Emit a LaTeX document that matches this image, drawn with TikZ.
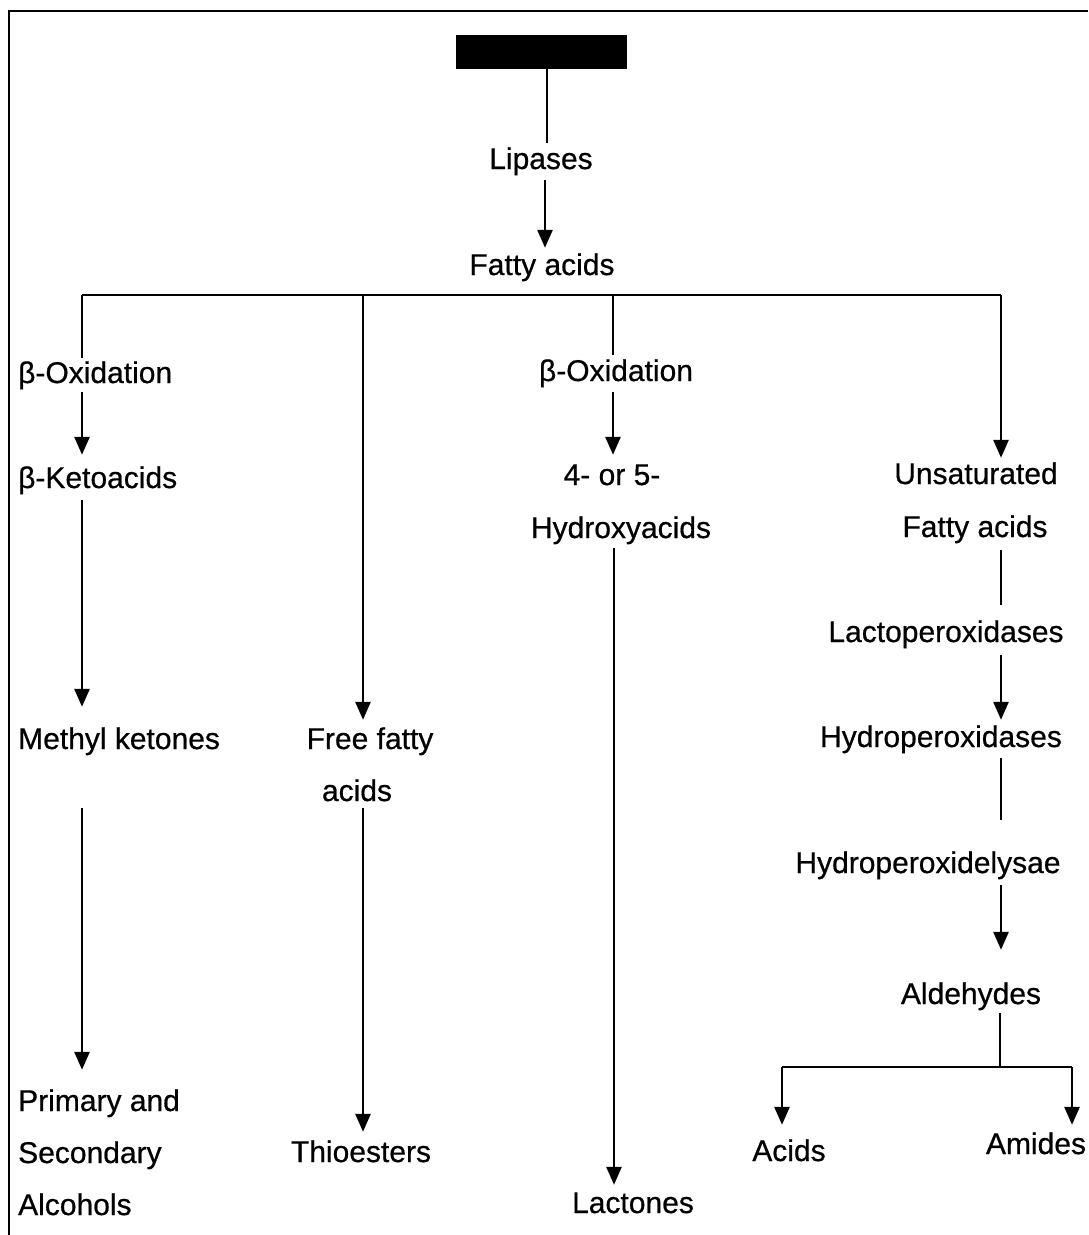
\documentclass[tikz,border=0pt]{standalone}
\usepackage{fontspec}
\setmainfont[FakeBold=0.6]{Liberation Sans}
\usetikzlibrary{arrows.meta}
\tikzset{
  lbl/.style={anchor=base, inner sep=0pt, text height=22pt, text depth=6pt, font=\fontsize{30}{36}\selectfont},
  lblw/.style={lbl, anchor=base west},
  conn/.style={line width=2.8pt},
  arr/.style={conn, -{Triangle[width=15pt,length=18pt]}},
  thin conn/.style={line width=1.2pt},
}
\begin{document}
\begin{tikzpicture}[x=1pt,y=-1pt]
\useasboundingbox (0,0) rectangle (1088,1235);
% frame
\draw[line width=2.8pt] (9,1235) -- (9,11) -- (1088,11);
% column coordinates
\coordinate (c0) at (547,0);
\coordinate (cA) at (82,0);
\coordinate (cB) at (363,0);
\coordinate (cC) at (613,0);
\coordinate (cH) at (614,0);
\coordinate (cD) at (1001,0);
\coordinate (barL) at (82,295);
\coordinate (barR) at (1001,295);
\coordinate (bB) at (363,295);
\coordinate (bC) at (613,295);
\coordinate (bE) at (1000,1067);
\coordinate (bAc) at (782,1067);
\coordinate (bAm) at (1072,1067);
% nodes
\node[fill=black, minimum width=171pt, minimum height=34pt, inner sep=0pt] (box) at (541.5,52) {};
\node[lbl] (lip) at (541,169) {Lipases};
\node[lbl] (fa) at (542,275) {Fatty acids};
\node[lblw] (ox1) at (18,383) {β-Oxidation};
\node[lblw] (ka) at (18,488) {β-Ketoacids};
\node[lblw] (mk) at (18,749) {Methyl ketones};
\node[lblw] (pa) at (18,1111) {Primary and};
\node[lblw] (sec) at (18,1163) {Secondary};
\node[lblw] (alc) at (18,1215) {Alcohols};
\node[lbl] (ff) at (370,749) {Free fatty};
\node[lbl] (ff2) at (357,801) {acids};
\node[lbl] (th) at (361,1162) {Thioesters};
\node[lbl] (ox2) at (616,381) {β-Oxidation};
\node[lbl] (h4) at (612,485) {4- or 5-};
\node[lbl] (hy) at (621,538) {Hydroxyacids};
\node[lbl] (lac) at (633,1213) {Lactones};
\node[lbl] (un) at (976,484) {Unsaturated};
\node[lbl] (fa2) at (975,537) {Fatty acids};
\node[lbl] (lp) at (946,642) {Lactoperoxidases};
\node[lbl] (hp) at (941,747) {Hydroperoxidases};
\node[lbl] (hl) at (928,873) {Hydroperoxidelysae};
\node[lbl] (al) at (971,1004) {Aldehydes};
\node[lbl] (ac) at (789,1161) {Acids};
\node[lbl] (am) at (1036,1154) {Amides};
% connectors
\draw[conn, shorten >=4pt] (box.south -| c0) -- (lip.north -| c0);
\draw[arr, shorten <=5pt, shorten >=5pt] (lip.south -| 545,0) -- (fa.north -| 545,0);
\draw[conn] (barL) -- (barR);
% left column
\draw[conn, shorten >=3pt] (barL) -- (ox1.north -| barL);
\draw[arr, shorten <=3pt, shorten >=11pt] (ox1.south -| cA) -- (ka.north -| cA);
\draw[arr, shorten <=6pt, shorten >=20pt] (ka.south -| cA) -- (mk.north -| cA);
\draw[arr, shorten <=53pt, shorten >=19pt] (mk.south -| cA) -- (pa.north -| cA);
% second column
\draw[arr, shorten >=7pt] (bB) -- (ff.north -| bB);
\draw[arr, shorten <=1pt, shorten >=8pt] (ff2.south -| cB) -- (th.north -| cB);
% third column
\draw[conn, shorten >=4pt] (bC) -- (ox2.north -| bC);
\draw[arr, shorten <=5pt, shorten >=8pt] (ox2.south -| cC) -- (h4.north -| cC);
\draw[arr, shorten <=4pt, shorten >=6pt] (hy.south -| cH) -- (lac.north -| cH);
% fourth column
\draw[arr, shorten >=4pt] (barR) -- (un.north -| barR);
\draw[conn, shorten <=7pt, shorten >=15pt] (fa2.south -| cD) -- (lp.north -| cD);
\draw[arr, shorten <=7pt, shorten >=5pt] (lp.south -| cD) -- (hp.north -| cD);
\draw[thin conn, shorten <=5pt, shorten >=31pt] (hp.south -| cD) -- (hl.north -| cD);
\draw[arr, shorten <=6pt, shorten >=32pt] (hl.south -| cD) -- (al.north -| cD);
\draw[conn, shorten <=3pt] (al.south -| bE) -- (bE);
\draw[conn] (bAc) -- (bAm);
\draw[arr, shorten >=14pt] (bAc) -- (ac.north -| bAc);
\draw[arr, shorten >=7pt] (bAm) -- (am.north -| bAm);
\end{tikzpicture}
\end{document}
